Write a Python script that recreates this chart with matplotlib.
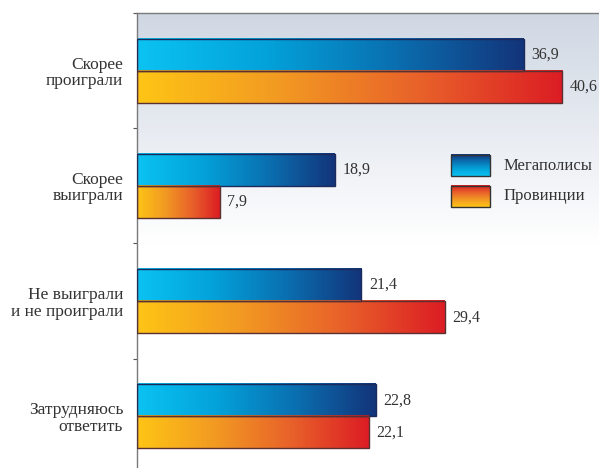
import numpy as np
import matplotlib.pyplot as plt
from matplotlib.colors import LinearSegmentedColormap

plt.rcParams['font.family'] = ['Liberation Serif', 'DejaVu Serif']

categories = ['Скорее\nпроиграли', 'Скорее\nвыиграли', 'Не выиграли\nи не проиграли', 'Затрудняюсь\nответить']
megapolis = [36.9, 18.9, 21.4, 22.8]
province = [40.6, 7.9, 29.4, 22.1]
series_names = ['Мегаполисы', 'Провинции']

blue_cm = LinearSegmentedColormap.from_list('b', ['#0bc3f2', '#03a2da', '#0a6fb0', '#13347a'])
red_cm = LinearSegmentedColormap.from_list('r', ['#fec515', '#f29a22', '#e8612a', '#dc1d24'])
bg_cm = LinearSegmentedColormap.from_list('bg', ['#ffffff', '#ffffff', '#cfd7e3'])

fig = plt.figure(figsize=(5.99, 4.68), dpi=100)
ax = fig.add_axes([137/599, -6/468, 462/599, 461/468])

y = np.arange(len(categories))
h = 0.278
fs = 12.5

# background gradient
grad = np.linspace(0, 1, 256).reshape(-1, 1)
ax.imshow(grad, aspect='auto', cmap=bg_cm, extent=[0, 1, 0, 1], origin='lower',
          transform=ax.transAxes, zorder=0, interpolation='bicubic')
hbar = np.linspace(0, 1, 256).reshape(1, -1)

b1 = ax.barh(y - h/2, megapolis, height=h, facecolor='none', edgecolor='#1c2a5c', linewidth=1.0, zorder=3)
b2 = ax.barh(y + h/2, province, height=h, facecolor='none', edgecolor='#5a3030', linewidth=1.0, zorder=3)

for bars, cm in ((b1, blue_cm), (b2, red_cm)):
    for p in bars:
        x0, y0 = p.get_x(), p.get_y()
        w, hh = p.get_width(), p.get_height()
        ax.imshow(hbar, aspect='auto', cmap=cm, extent=[x0, x0 + w, y0 + hh, y0],
                  zorder=2, interpolation='bicubic')
        ax.annotate(f'{w:.1f}'.replace('.', ','), (x0 + w, y0 + hh/2), xytext=(5.5, 0),
                    textcoords='offset points', va='center', ha='left', fontsize=11.5, color='#333333')

ax.set_yticks(np.arange(-0.5, 4, 1))
ax.set_yticklabels([])
ax.set_yticks(y, minor=True)
ax.set_yticklabels(categories, minor=True, fontsize=fs, color='#333333', linespacing=1.05)
ax.tick_params(axis='y', which='minor', length=0, pad=10)
ax.tick_params(axis='y', which='major', length=3, color='#555555', width=0.8)
ax.set_xticks([])
for s in ('right', 'bottom'):
    ax.spines[s].set_visible(False)
for s in ('left', 'top'):
    ax.spines[s].set_color('#7a7a7a')
    ax.spines[s].set_linewidth(1.0)

# legend with gradient swatches (dark at top)
vgrad = np.linspace(1, 0, 256).reshape(-1, 1)
for i, (name, cm) in enumerate(zip(series_names, (blue_cm, red_cm))):
    top = 0.692 - i * 0.067
    ax.imshow(vgrad, aspect='auto', cmap=cm, extent=[0.680, 0.764, top - 0.046, top],
              origin='upper', transform=ax.transAxes, zorder=4, interpolation='bicubic')
    ax.add_patch(plt.Rectangle((0.680, top - 0.046), 0.084, 0.046, transform=ax.transAxes,
                               facecolor='none', edgecolor='#333333', linewidth=1.0, zorder=5))
    ax.text(0.794, top - 0.023, name, transform=ax.transAxes, va='center', ha='left',
            fontsize=12, color='#333333')

ax.set_xlim(0, 44.1)
ax.set_ylim(3.5, -0.5)
fig.savefig('out.png', dpi=100)
